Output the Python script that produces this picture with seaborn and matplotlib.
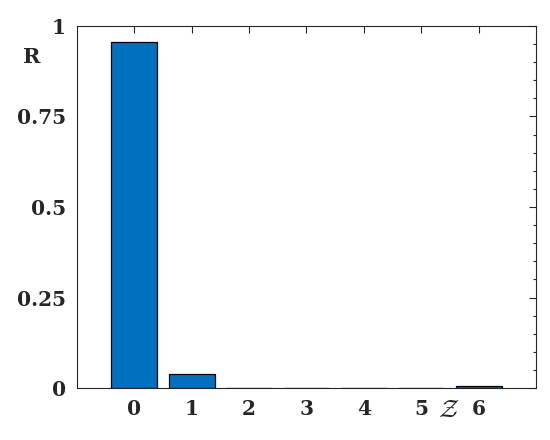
import numpy as np
import pandas as pd
import seaborn as sns
import matplotlib.pyplot as plt
from matplotlib.ticker import MultipleLocator

# values
z_vals = [0, 1, 2, 3, 4, 5, 6]
r_vals = [0.955, 0.039, 0.001, 0.001, 0.0003, 0.0003, 0.006]
y_ticks = [0, 0.25, 0.5, 0.75, 1]
y_labels = ["0", "0.25", "0.5", "0.75", "1"]

df = pd.DataFrame({"z": z_vals, "R": r_vals})

sns.set_style("white")
plt.rcParams["font.family"] = ["DejaVu Serif"]
plt.rcParams["font.weight"] = "bold"
plt.rcParams["mathtext.fontset"] = "cm"

fig = plt.figure(figsize=(5.5, 4.4), dpi=100)
ax = fig.add_axes([0.14, 0.118, 0.8345, 0.823])

sns.barplot(data=df, x="z", y="R", color="#0072BD", saturation=1,
            edgecolor="black", linewidth=0.9, width=0.8, ax=ax)

ax.set_xlim(-1, 7)
ax.set_ylim(0, 1)
ax.set_yticks(y_ticks)
ax.set_yticklabels(y_labels)
ax.yaxis.set_minor_locator(MultipleLocator(0.05))
ax.tick_params(which="both", direction="in", top=True, right=True,
               labelsize=14.5, color="#262626", width=0.8)
ax.tick_params(which="major", length=5, pad=8)
ax.tick_params(which="minor", length=2.5)
for lab in ax.get_xticklabels() + ax.get_yticklabels():
    lab.set_fontweight("bold")
    lab.set_color("#262626")
for s in ax.spines.values():
    s.set_visible(True)
    s.set_color("#262626")
    s.set_linewidth(0.8)

ax.set_xlabel("")
ax.set_ylabel("")
fig.text(0.058, 0.87, "R", fontsize=15, fontweight="bold", color="#262626",
         ha="center", va="center")
fig.text(0.815, 0.068, r"$\mathcal{Z}$", fontsize=18, color="#262626",
         ha="center", va="center")

fig.savefig("out.png", dpi=100)
